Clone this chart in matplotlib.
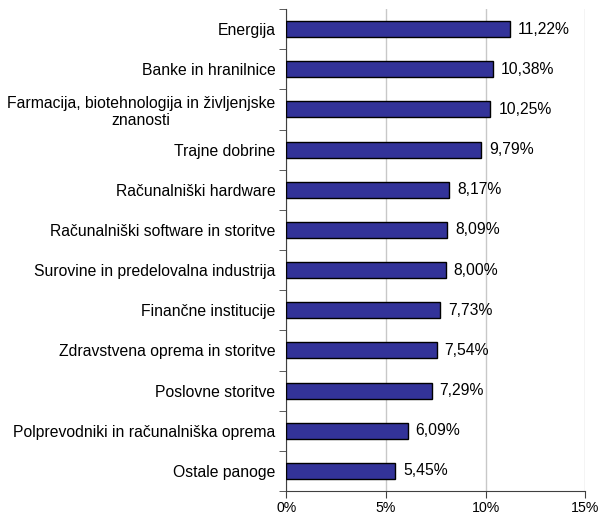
import matplotlib.pyplot as plt
import numpy as np

plt.rcParams['font.family'] = ['Liberation Sans', 'DejaVu Sans']

# podatki
panoge = ['Energija', 'Banke in hranilnice',
          'Farmacija, biotehnologija in življenjske\nznanosti',
          'Trajne dobrine', 'Računalniški hardware',
          'Računalniški software in storitve',
          'Surovine in predelovalna industrija', 'Finančne institucije',
          'Zdravstvena oprema in storitve', 'Poslovne storitve',
          'Polprevodniki in računalniška oprema', 'Ostale panoge']
deleži = [11.22, 10.38, 10.25, 9.79, 8.17, 8.09, 8.00, 7.73, 7.54, 7.29, 6.09, 5.45]
x_ticks = [0, 5, 10, 15]

fig = plt.figure(figsize=(6.01, 5.15), dpi=100)
ax = fig.add_axes([0.4767, 0.0466, 0.4967, 0.9359])

y = np.arange(len(panoge))
ax.barh(y, deleži, height=0.4, color='#333399', edgecolor='black', linewidth=1, zorder=3)

for yi, v in zip(y, deleži):
    ax.text(v + 0.4, yi, f'{v:.2f}%'.replace('.', ','), va='center', ha='left', fontsize=11.3)

ax.set_ylim(len(panoge) - 0.5, -0.5)
ax.set_xlim(0, 15)
ax.set_xticks(x_ticks)
ax.set_xticklabels([f'{t}%' for t in x_ticks], fontsize=10.2)
ax.set_yticks(y)
ax.set_yticklabels(panoge, fontsize=11.3, multialignment='center')
ax.tick_params(axis='y', length=0, pad=8)
ax.set_yticks(np.arange(len(panoge) + 1) - 0.5, minor=True)
ax.tick_params(axis='y', which='minor', length=5, color='#404040')
ax.tick_params(axis='x', length=5, color='#404040', pad=2)

ax.grid(axis='x', color='#c8c8c8', linewidth=1, zorder=0)
for s in ['top', 'right']:
    ax.spines[s].set_visible(False)
for s in ['left', 'bottom']:
    ax.spines[s].set_color('#404040')

fig.savefig('out.png', dpi=100)
